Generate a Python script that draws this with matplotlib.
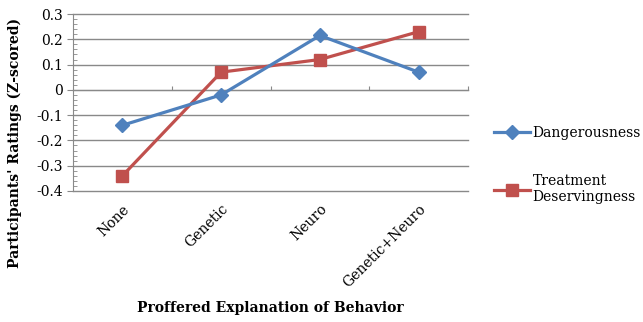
import matplotlib
matplotlib.use("Agg")
import matplotlib.pyplot as plt
from matplotlib.ticker import MultipleLocator

categories = ["None", "Genetic", "Neuro", "Genetic+Neuro"]
dangerousness = [-0.14, -0.02, 0.215, 0.07]
treatment = [-0.34, 0.07, 0.12, 0.23]
series_labels = ["Dangerousness", "Treatment\nDeservingness"]
yticks = [-0.4, -0.3, -0.2, -0.1, 0, 0.1, 0.2, 0.3]
ytick_labels = ["-0.4", "-0.3", "-0.2", "-0.1", "0", "0.1", "0.2", "0.3"]

plt.rcParams['font.family'] = ['DejaVu Serif']
plt.rcParams['font.size'] = 10

blue = '#4F81BD'
red = '#C0504D'
grid_col = '#898989'

fig = plt.figure(figsize=(6.43, 3.22), dpi=100)
ax = fig.add_axes([73 / 643, 1 - 191 / 322, 395 / 643, 177 / 322])

x = list(range(len(categories)))
ax.plot(x, dangerousness, color=blue, lw=2.3, marker='D', ms=7, label=series_labels[0], zorder=4)
ax.plot(x, treatment, color=red, lw=2.3, marker='s', ms=8, label=series_labels[1], zorder=3)

ax.set_xlim(-0.5, 3.5)
ax.set_ylim(-0.4, 0.3)

# y axis: major ticks outside, minor ticks inside
ax.set_yticks(yticks, ytick_labels)
ax.yaxis.set_minor_locator(MultipleLocator(0.02))
ax.tick_params(axis='y', which='major', direction='out', length=4, color=grid_col, pad=3)
ax.tick_params(axis='y', which='minor', direction='in', length=3, color=grid_col)
ax.yaxis.grid(True, color=grid_col, lw=1)
ax.set_axisbelow(True)
for gl in ax.get_ygridlines():
    gl.set_clip_on(False)

# horizontal axis crossing at zero, ticks between categories
ax.spines['bottom'].set_position(('data', 0))
ax.spines['bottom'].set_color(grid_col)
ax.spines['left'].set_color(grid_col)
ax.spines['top'].set_visible(False)
ax.spines['right'].set_visible(False)
ax.set_xticks([0.5, 1.5, 2.5, 3.5])
ax.set_xticklabels([])
ax.tick_params(axis='x', which='major', direction='in', length=3, color=grid_col)

# category labels at bottom of plot area
sec = ax.secondary_xaxis(0)
sec.set_xticks(x, categories)
sec.tick_params(length=0, pad=8)
sec.spines['bottom'].set_visible(False)
for lbl in sec.get_xticklabels():
    lbl.set_rotation(45)
    lbl.set_ha('right')
    lbl.set_rotation_mode('anchor')

fig.text(270 / 643, 1 - 308 / 322, "Proffered Explanation of Behavior",
         ha='center', va='center', fontweight='bold', fontsize=10)
fig.text(15 / 643, 1 - 143 / 322, "Participants' Ratings (Z-scored)",
         ha='center', va='center', rotation=90, fontweight='bold', fontsize=10)

fig.legend(loc='upper left', bbox_to_anchor=(481 / 643, 1 - 113 / 322),
           frameon=False, handlelength=2.6, handletextpad=0.2, labelspacing=2.5,
           fontsize=10)

fig.savefig("out.png", dpi=100)
